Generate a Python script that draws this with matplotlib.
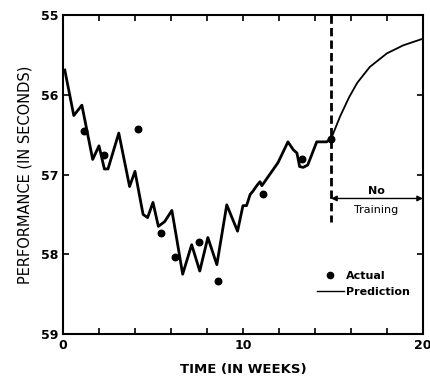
import matplotlib
matplotlib.use("Agg")
import matplotlib.pyplot as plt
from matplotlib.lines import Line2D

# prediction during training (weeks, seconds)
train_weeks = [0.1, 0.6, 1.05, 1.65, 2.0, 2.3, 2.5, 3.1, 3.7, 4.0, 4.45, 4.7,
               5.0, 5.3, 5.65, 6.05, 6.3, 6.65, 7.15, 7.6, 8.05, 8.55, 9.1,
               9.7, 10.0, 10.2, 10.4, 10.55, 10.8, 10.95, 11.05, 11.95, 12.5,
               12.8, 13.0, 13.15, 13.35, 13.6, 14.1, 14.65, 14.9]
train_pred = [55.69, 56.26, 56.13, 56.81, 56.64, 56.93, 56.93, 56.48, 57.15,
              56.96, 57.5, 57.54, 57.35, 57.65, 57.59, 57.45, 57.78, 58.25,
              57.88, 58.21, 57.79, 58.13, 57.38, 57.71, 57.39, 57.39, 57.25,
              57.21, 57.13, 57.09, 57.14, 56.85, 56.59, 56.69, 56.73, 56.9,
              56.91, 56.88, 56.59, 56.59, 56.55]

# prediction after training stops
rest_weeks = [14.9, 15.4, 15.9, 16.35, 17.05, 18.0, 18.9, 19.95]
rest_pred = [56.55, 56.27, 56.03, 55.85, 55.65, 55.48, 55.38, 55.3]

# measured performance
act_weeks = [1.15, 2.3, 4.15, 5.45, 6.2, 7.55, 8.6, 11.1, 13.3, 14.9]
act_perf = [56.45, 56.76, 56.43, 57.73, 58.04, 57.84, 58.34, 57.24, 56.81, 56.56]

stop_week = 14.9

fig = plt.figure(figsize=(4.3, 3.77), dpi=100)
ax = fig.add_axes([0.1465, 0.114, 0.837, 0.846])

ax.plot(train_weeks, train_pred, color="black", lw=2.0)
ax.plot(rest_weeks, rest_pred, color="black", lw=1.3)
ax.scatter(act_weeks, act_perf, s=22, color="black", zorder=3)

# end of training marker
ax.plot([stop_week, stop_week], [55, 57.6], color="black", lw=2.0,
        ls=(0, (3, 1.5)))
ax.annotate("", xy=(stop_week, 57.3), xytext=(20, 57.3),
            arrowprops=dict(arrowstyle="<|-|>", color="black", lw=1.0,
                            mutation_scale=8, shrinkA=0, shrinkB=0))
ax.text(17.4, 57.21, "No", ha="center", va="center", fontsize=8,
        fontweight="bold")
ax.text(17.4, 57.45, "Training", ha="center", va="center", fontsize=8)

ax.set_xlim(0, 20)
ax.set_ylim(59, 55)
ax.set_xticks([0, 10, 20])
ax.set_xticks(range(0, 21, 2), minor=True)
ax.set_yticks([55, 56, 57, 58, 59])
ax.tick_params(which="both", direction="in", top=True, right=True,
               length=4, width=1.2, labelsize=9)
ax.tick_params(which="minor", length=4)
for lab in ax.get_xticklabels() + ax.get_yticklabels():
    lab.set_fontweight("bold")
for sp in ax.spines.values():
    sp.set_linewidth(1.5)

ax.set_xlabel("TIME (IN WEEKS)", fontsize=9.5, fontweight="bold", labelpad=8)
ax.set_ylabel("PERFORMANCE (IN SECONDS)", fontsize=10.5, labelpad=6)

handles = [Line2D([], [], ls="none", marker="o", ms=4.5, color="black"),
           Line2D([], [], color="black", lw=1.0)]
leg = ax.legend(handles, ["Actual", "Prediction"], loc="lower left",
                bbox_to_anchor=(0.69, 0.1), frameon=False, fontsize=8,
                handlelength=2.4, handletextpad=0.2, labelspacing=0.5,
                borderpad=0)
for t in leg.get_texts():
    t.set_fontweight("bold")

fig.savefig("out.png", dpi=100)
